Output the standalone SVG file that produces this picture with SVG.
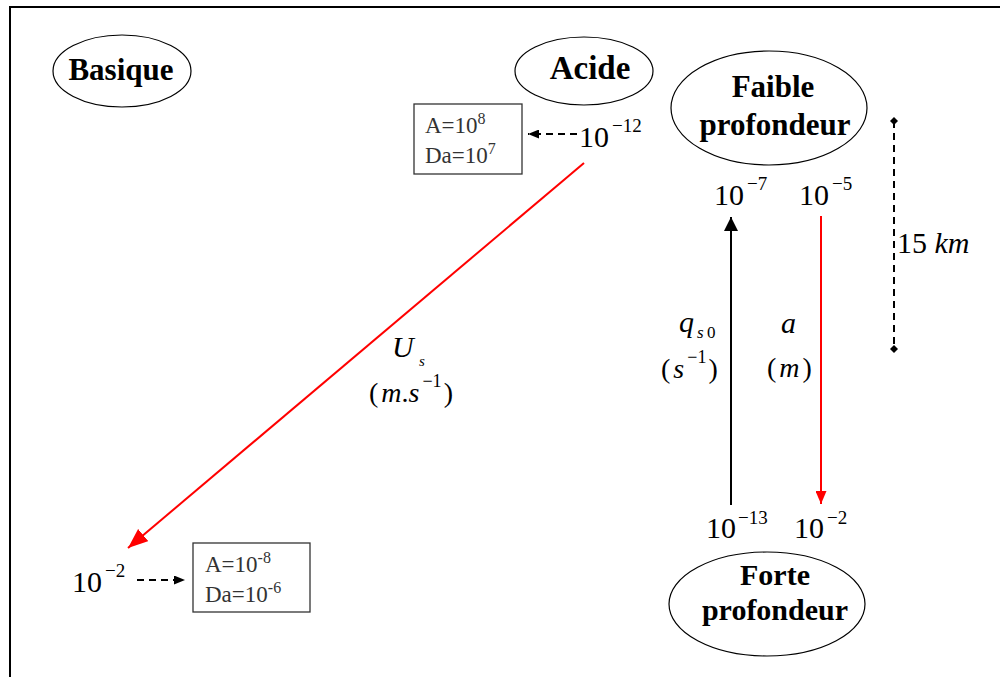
<svg xmlns="http://www.w3.org/2000/svg" width="1000" height="677" viewBox="0 0 1000 677">
<defs>
<style>
.t{font-family:"Liberation Serif","Times New Roman",serif;fill:#000}
.lbl{font-weight:bold;font-size:31px;text-anchor:middle}
.num{font-size:30px}
.sup{font-size:19px}
.it{font-style:italic}
.box{fill:#fff;stroke:#333;stroke-width:1.3}
.bt{font-family:"Liberation Serif","Times New Roman",serif;font-size:23px;fill:#333}
.bs{font-size:16px}
.node{fill:#fff;stroke:#000;stroke-width:1.2}
.blk{stroke:#000;stroke-width:2;fill:none}
.red{stroke:#f00;stroke-width:2;fill:none}
.dash{stroke:#000;stroke-width:2;fill:none;stroke-dasharray:7 5}
</style>
<marker id="ahBlk" markerUnits="userSpaceOnUse" viewBox="0 0 14 14" markerWidth="14" markerHeight="14" refX="14" refY="7" orient="auto"><path d="M0,0 L14,7 L0,14 z" fill="#000"/></marker>
<marker id="ahRedL" markerUnits="userSpaceOnUse" viewBox="0 0 20 16" markerWidth="20" markerHeight="16" refX="20" refY="8" orient="auto"><path d="M0,0 L20,8 L0,16 z" fill="#f00"/></marker>
<marker id="ahRedS" markerUnits="userSpaceOnUse" viewBox="0 0 13 11" markerWidth="13" markerHeight="11" refX="13" refY="5.5" orient="auto"><path d="M0,0 L13,5.5 L0,11 z" fill="#f00"/></marker>
<marker id="ahSm" markerUnits="userSpaceOnUse" viewBox="0 0 11 9" markerWidth="11" markerHeight="9" refX="11" refY="4.5" orient="auto"><path d="M0,0 L11,4.5 L0,9 z" fill="#000"/></marker>
<marker id="dot" markerUnits="userSpaceOnUse" viewBox="0 0 8 8" markerWidth="8" markerHeight="8" refX="4" refY="4" orient="auto"><path d="M4,0 L8,4 L4,8 L0,4 z" fill="#000"/></marker>
</defs>
<rect x="10" y="7" width="1000" height="700" fill="#fff" stroke="#000" stroke-width="2"/>

<g id="basique"><ellipse class="node" cx="122" cy="71" rx="69" ry="36"/><text class="t lbl" x="121" y="80">Basique</text></g>
<g id="acide"><ellipse class="node" cx="584" cy="71" rx="69" ry="34"/><text class="t lbl" style="font-size:33px" x="590" y="79">Acide</text></g>
<g id="faible"><ellipse class="node" cx="769" cy="108" rx="98" ry="57"/><text class="t lbl" x="773" y="97">Faible</text><text class="t lbl" x="775" y="135">profondeur</text></g>
<g id="forte"><ellipse class="node" cx="767" cy="604" rx="98" ry="52"/><text class="t lbl" style="font-size:30px" x="775" y="585">Forte</text><text class="t lbl" style="font-size:30px" x="775" y="620">profondeur</text></g>

<g id="boxTop"><rect class="box" x="414" y="104" width="108" height="70"/>
<text class="bt" x="425" y="133">A=10<tspan class="bs" dy="-9">8</tspan></text>
<text class="bt" x="425" y="163">Da=10<tspan class="bs" dy="-9">7</tspan></text></g>
<g id="boxBot"><rect class="box" x="193" y="543" width="117" height="69"/>
<text class="bt" x="205" y="572">A=10<tspan class="bs" dy="-9">-8</tspan></text>
<text class="bt" x="205" y="602">Da=10<tspan class="bs" dy="-9">-6</tspan></text></g>

<g id="values">
<text class="t num" x="579" y="147">10</text><text class="t sup" x="612" y="132">−12</text>
<text class="t num" x="72" y="592">10</text><text class="t sup" x="105" y="577">−2</text>
<text class="t num" x="714" y="205">10</text><text class="t sup" x="747" y="190">−7</text>
<text class="t num" x="799" y="205">10</text><text class="t sup" x="832" y="190">−5</text>
<text class="t num" x="706" y="538">10</text><text class="t sup" x="738" y="524">−13</text>
<text class="t num" x="794" y="538">10</text><text class="t sup" x="827" y="524">−2</text>
<text class="t" style="font-size:30px" x="897" y="253">15 <tspan class="it">km</tspan></text>
</g>

<g id="labels">
<text class="t it" style="font-size:30px" x="392" y="357">U</text><text class="t it" style="font-size:15px" x="419" y="366">s</text>
<text class="t" style="font-size:28px" x="369" y="402">(<tspan class="it" dx="3">m</tspan>.<tspan class="it">s</tspan><tspan style="font-size:18px" dx="3" dy="-15">−1</tspan><tspan dx="2" dy="15">)</tspan></text>
<text class="t it" style="font-size:30px" x="679" y="332">q</text><text class="t it" style="font-size:17px" x="697" y="338">s</text><text class="t" style="font-size:17px" x="707" y="338">0</text>
<text class="t" style="font-size:28px" x="661" y="378">(<tspan class="it" dx="3">s</tspan><tspan style="font-size:18px" dx="3" dy="-15">−1</tspan><tspan dx="2" dy="15">)</tspan></text>
<text class="t it" style="font-size:30px" x="781" y="333">a</text>
<text class="t" style="font-size:28px" x="767" y="377">(<tspan class="it" dx="3">m</tspan><tspan dx="3">)</tspan></text>
</g>

<g id="connectors">
<line class="red" x1="584" y1="163" x2="128" y2="548" marker-end="url(#ahRedL)"/>
<line class="dash" x1="577" y1="134" x2="528" y2="134" marker-end="url(#ahSm)"/>
<line class="dash" x1="137" y1="580" x2="185" y2="580" marker-end="url(#ahSm)"/>
<line class="blk" x1="731" y1="505" x2="731" y2="217" marker-end="url(#ahBlk)"/>
<line class="red" x1="821" y1="216" x2="821" y2="504" marker-end="url(#ahRedS)"/>
<line class="dash" x1="894" y1="121" x2="894" y2="349" marker-start="url(#dot)" marker-end="url(#dot)"/>
</g>
</svg>
